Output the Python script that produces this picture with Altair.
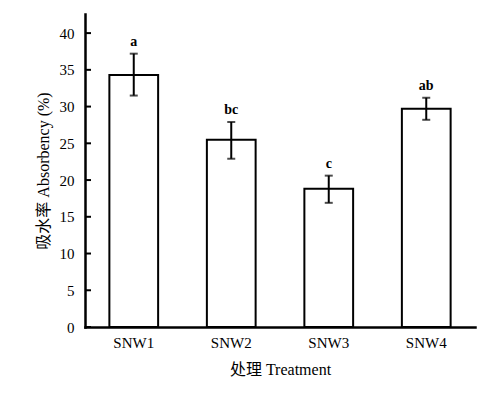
import altair as alt
import pandas as pd

treatments = ["SNW1", "SNW2", "SNW3", "SNW4"]
means = [34.3, 25.5, 18.8, 29.7]
err_low = [31.5, 22.9, 16.9, 28.2]
err_high = [37.2, 27.9, 20.6, 31.2]
letters = ["a", "bc", "c", "ab"]
y_ticks = [0, 5, 10, 15, 20, 25, 30, 35, 40]

df = pd.DataFrame({"t": treatments, "m": means, "lo": err_low, "hi": err_high, "lab": letters})
ticks_df = pd.DataFrame({"v": y_ticks})

FONT = "'Liberation Serif', 'Noto Sans CJK SC', serif"
ydom = [0, 42.6]

xaxis = alt.Axis(labelAngle=0, ticks=False, labelPadding=8, titlePadding=11,
                 labelFontSize=15, titleFontSize=16, labelFont=FONT, titleFont=FONT,
                 titleFontWeight="normal", labelColor="black", titleColor="black",
                 domainColor="black", domainWidth=2.5, labelOverlap=False)
yaxis = alt.Axis(values=y_ticks, ticks=False, labelPadding=11, titlePadding=8,
                 labelFontSize=15, titleFontSize=16, labelFont=FONT, titleFont=FONT,
                 titleFontWeight="normal", labelColor="black", titleColor="black",
                 domainColor="black", domainWidth=2.5, grid=False, labelOverlap=False)
XT = "处理 Treatment"
YT = "吸水率 Absorbency (%)"
xscale = alt.Scale(paddingInner=0.5, paddingOuter=0.25)
yscale = alt.Scale(domain=ydom, nice=False, zero=True)

def X():
    return alt.X("t:N", sort=treatments, title=XT, scale=xscale, axis=xaxis)

def Y(field):
    return alt.Y(field, scale=yscale, title=YT, axis=yaxis)

bars = alt.Chart(df).mark_bar(fill="white", stroke="black", strokeWidth=2).encode(
    x=X(), y=Y("m:Q"))
errs = alt.Chart(df).mark_rule(stroke="black", strokeWidth=2).encode(
    x=X(), y=Y("lo:Q"), y2="hi:Q")
cap_lo = alt.Chart(df).mark_tick(color="black", size=8, thickness=2).encode(
    x=X(), y=Y("lo:Q"))
cap_hi = alt.Chart(df).mark_tick(color="black", size=8, thickness=2).encode(
    x=X(), y=Y("hi:Q"))
labels = alt.Chart(df).mark_text(baseline="bottom", dy=-5, fontSize=14, font=FONT,
                                 fontWeight="bold", color="black").encode(
    x=X(), y=Y("hi:Q"), text="lab:N")
yticks = alt.Chart(ticks_df).mark_rule(stroke="black", strokeWidth=2).encode(
    x=alt.value(0), x2=alt.value(6), y=Y("v:Q"))

chart = alt.layer(bars, errs, cap_lo, cap_hi, labels, yticks).properties(
    width=390, height=313,
    autosize=alt.AutoSizeParams(type="none"),
    padding={"left": 77, "top": 6, "right": 10, "bottom": 50},
).configure_view(stroke=None).configure_axis(domainCap="square")

chart.save("out.html", embed_options={"renderer": "svg", "actions": False})
